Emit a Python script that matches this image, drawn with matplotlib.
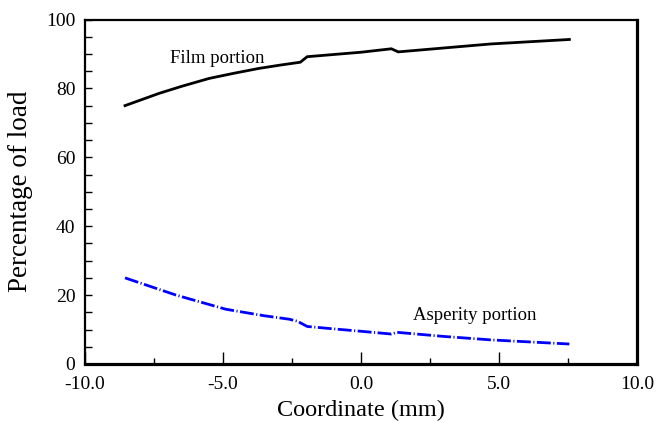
import matplotlib
matplotlib.use("Agg")
import matplotlib.pyplot as plt
from matplotlib.ticker import MultipleLocator, FormatStrFormatter

# values
film_x = [-8.55, -7.3, -6.5, -5.5, -4.6, -3.7, -2.9, -2.2, -1.95, 0.0, 1.1, 1.35, 4.7, 7.55]
film_y = [75.0, 78.6, 80.6, 82.9, 84.4, 85.8, 86.8, 87.6, 89.2, 90.5, 91.5, 90.6, 92.9, 94.2]

asp_x = [-8.55, -6.7, -4.9, -3.5, -2.6, -2.3, -1.95, -1.0, 0.0, 1.1, 1.3, 3.0, 4.7, 7.55]
asp_y = [25.0, 20.0, 15.9, 14.0, 13.0, 12.4, 10.9, 10.2, 9.5, 8.7, 9.2, 8.0, 7.0, 5.8]

labels = ["Film portion", "Asperity portion"]
label_pos = [(-6.92, 88.7), (1.89, 14.2)]

plt.rcParams["font.family"] = ["Liberation Serif", "DejaVu Serif"]

fig = plt.figure(figsize=(6.64, 4.21), dpi=100)
ax = fig.add_axes([85 / 664, 1 - 364 / 421, 552 / 664, 344.5 / 421])

ax.plot(film_x, film_y, color="black", lw=2.0, solid_joinstyle="miter")
ax.plot(asp_x, asp_y, color="#0000ff", lw=2.0, dashes=(5, 0.9, 0.4, 0.9))

for txt, (tx, ty) in zip(labels, label_pos):
    ax.text(tx, ty, txt, fontsize=13.5, ha="left", va="center")

ax.set_xlim(-10, 10)
ax.set_ylim(0, 100)
ax.xaxis.set_major_locator(MultipleLocator(5))
ax.xaxis.set_minor_locator(MultipleLocator(2.5))
ax.xaxis.set_major_formatter(FormatStrFormatter("%.1f"))
ax.yaxis.set_major_locator(MultipleLocator(20))
ax.yaxis.set_minor_locator(MultipleLocator(5))

ax.tick_params(axis="x", which="major", direction="in", length=8.6, width=1.0,
               labelsize=14, pad=8.5)
ax.tick_params(axis="x", which="minor", direction="in", length=4.3, width=1.0)
ax.tick_params(axis="y", which="both", direction="in", length=5, width=1.0,
               labelsize=14, pad=7)

for side in ("left", "top"):
    ax.spines[side].set_linewidth(1.6)
for side in ("bottom", "right"):
    ax.spines[side].set_linewidth(2.3)

ax.set_xlabel("Coordinate (mm)", fontsize=17.5, labelpad=5)
ax.set_ylabel("Percentage of load", fontsize=19.5, labelpad=9)

fig.savefig("out.png", dpi=100)
